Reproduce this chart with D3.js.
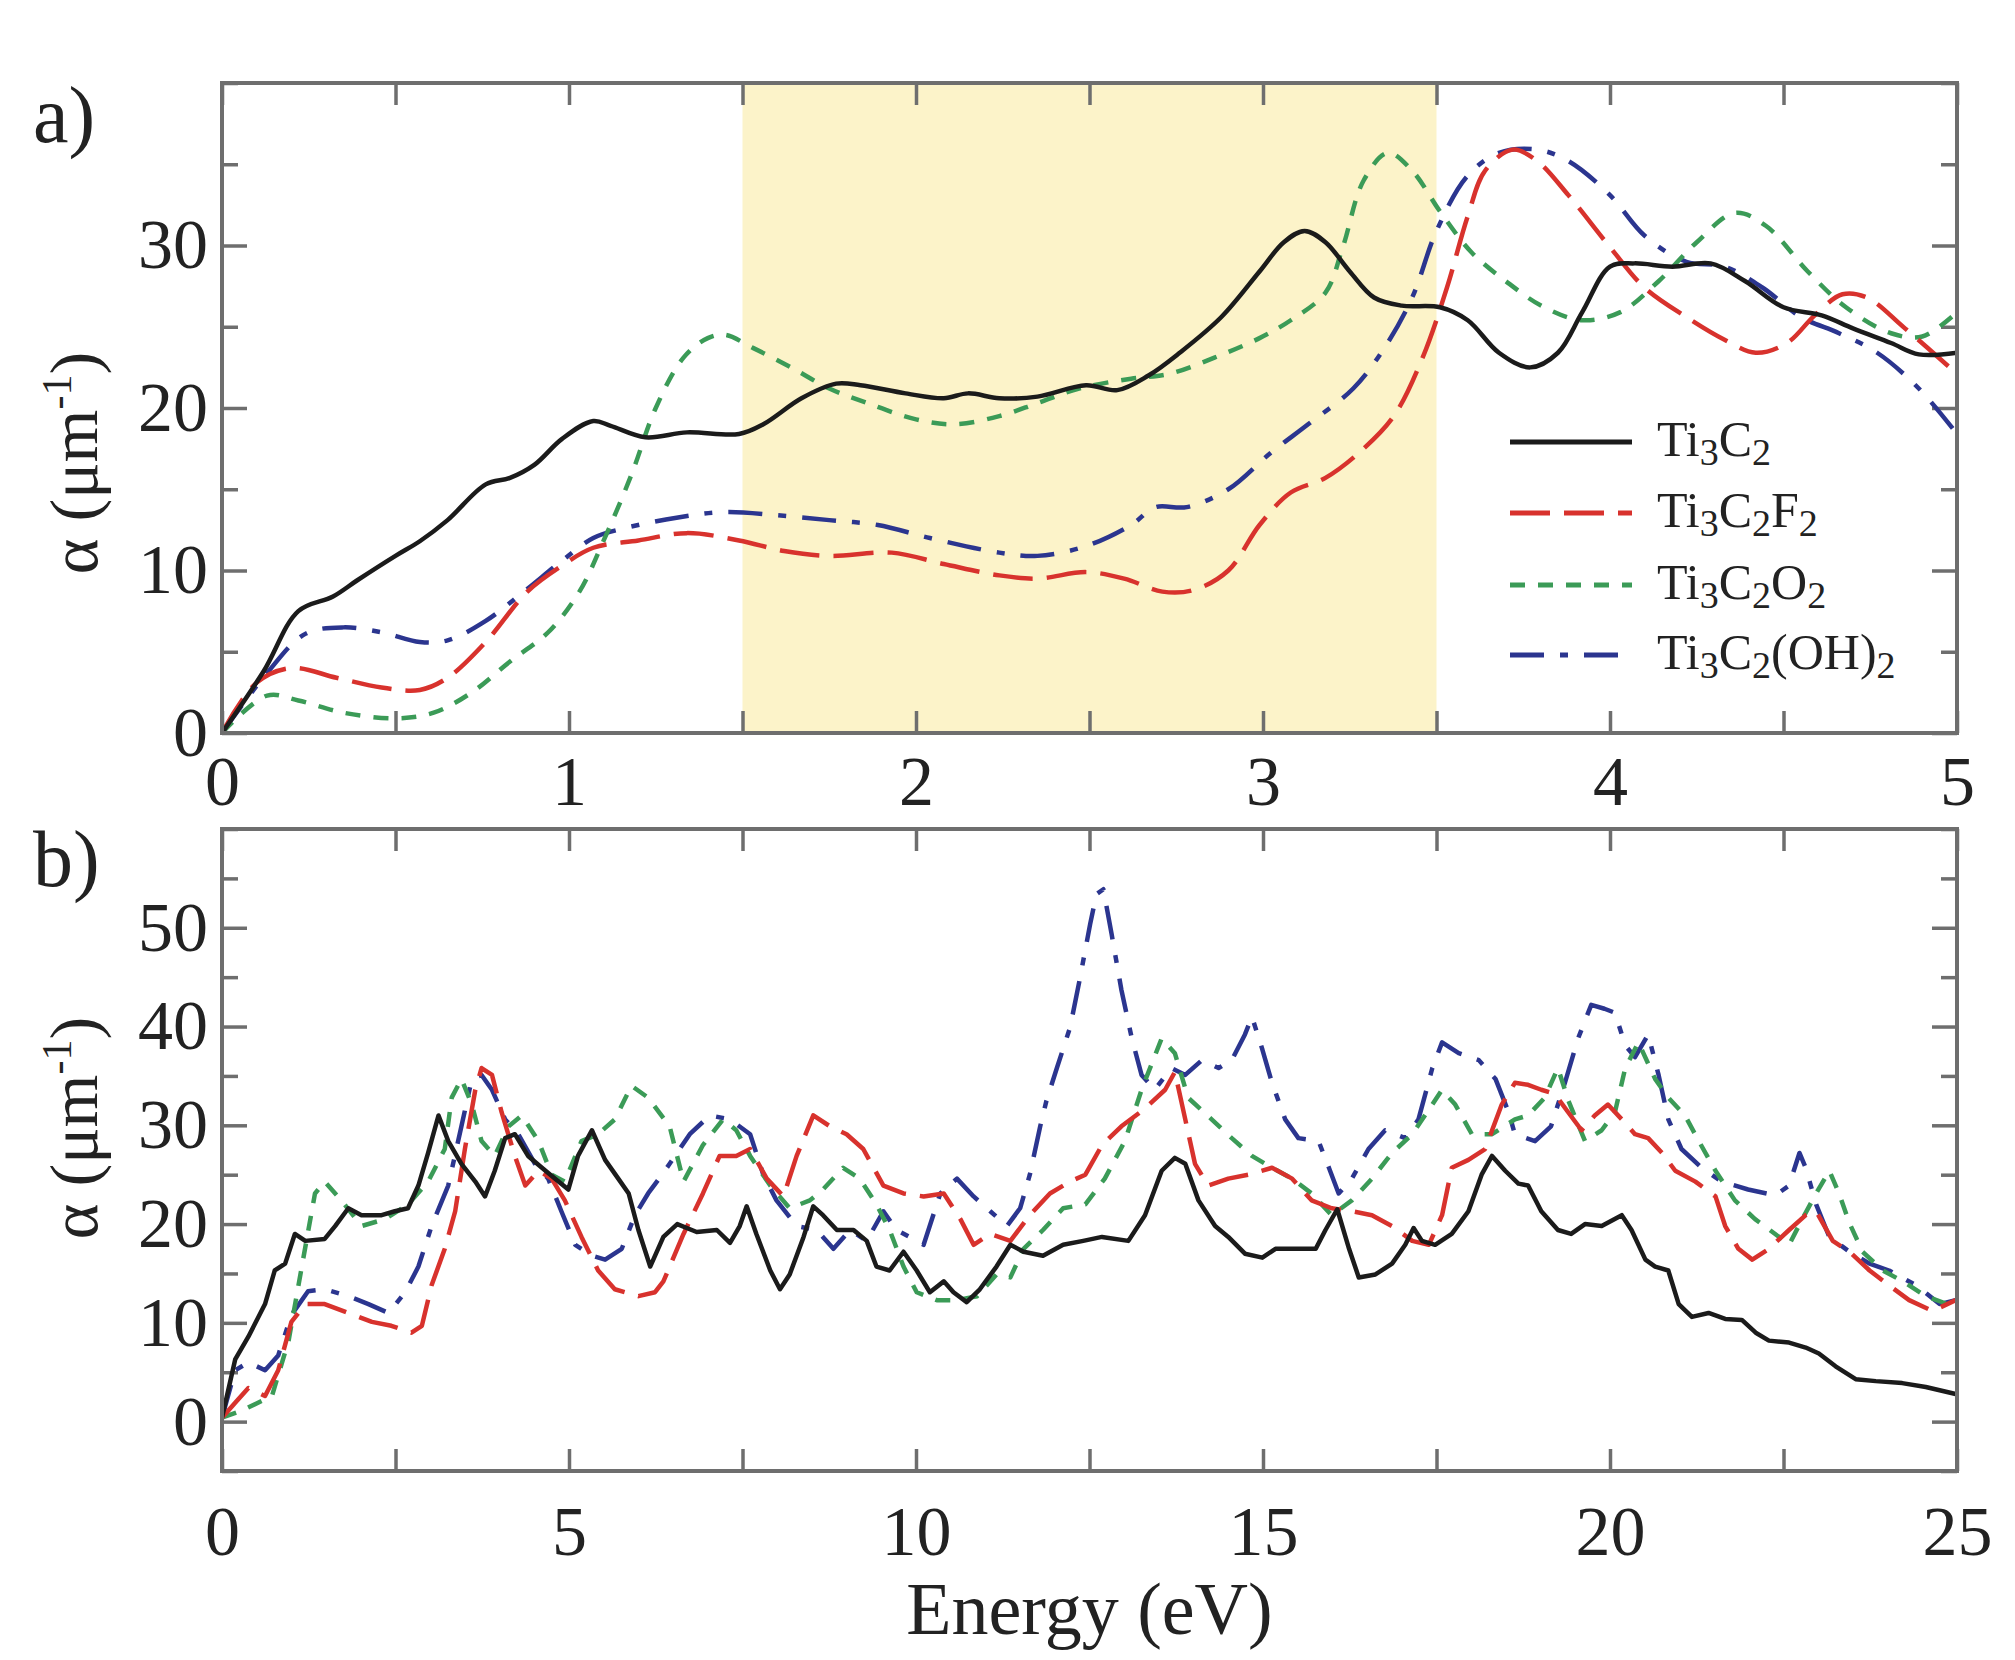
<!DOCTYPE html>
<html>
<head>
<meta charset="utf-8">
<script src="https://cdn.jsdelivr.net/npm/d3@7"></script>
<style>
  body { margin: 0; background: #fff; }
  svg { display: block; }
</style>
</head>
<body>
<div id="chart-area"></div>
<script>
// absorption spectra, values as [energy (eV), alpha (um^-1)]

var seriesNames = ["Ti3C2", "Ti3C2F2", "Ti3C2O2", "Ti3C2(OH)2"];

// panel a) 0 - 5 eV
var ti3c2A = [[0,0],[0.12,3.8],[0.22,7.5],[0.32,8.4],[0.39,9.4],[0.5,10.9],[0.57,11.8],[0.65,13.1],[0.76,15.3],[0.83,15.7],[0.9,16.5],[0.98,18.1],[1.07,19.2],[1.12,18.9],[1.22,18.2],[1.34,18.5],[1.49,18.4],[1.56,19.0],[1.67,20.6],[1.77,21.5],[1.84,21.4],[1.97,20.9],[2.08,20.6],[2.15,20.9],[2.24,20.6],[2.35,20.7],[2.49,21.4],[2.58,21.1],[2.67,22.0],[2.76,23.4],[2.88,25.6],[2.99,28.4],[3.06,30.2],[3.12,30.9],[3.18,30.2],[3.25,28.4],[3.32,26.8],[3.4,26.3],[3.51,26.2],[3.59,25.4],[3.68,23.4],[3.77,22.5],[3.85,23.4],[3.92,25.9],[4.0,28.7],[4.07,28.9],[4.18,28.7],[4.29,28.9],[4.39,27.8],[4.5,26.2],[4.61,25.7],[4.7,24.9],[4.81,24.0],[4.89,23.3],[5.0,23.4]];
var ti3c2f2A = [[0,0],[0.1,3.1],[0.2,4.0],[0.33,3.4],[0.46,2.8],[0.57,2.65],[0.65,3.4],[0.76,5.6],[0.88,8.7],[0.98,10.3],[1.07,11.4],[1.2,11.85],[1.34,12.3],[1.49,11.85],[1.62,11.2],[1.75,10.9],[1.93,11.1],[2.08,10.4],[2.24,9.7],[2.35,9.5],[2.49,9.9],[2.6,9.5],[2.71,8.7],[2.8,8.8],[2.9,10.0],[2.99,12.8],[3.08,14.8],[3.18,15.7],[3.29,17.5],[3.38,19.6],[3.46,23.1],[3.53,27.4],[3.59,31.8],[3.64,34.6],[3.72,35.9],[3.79,35.2],[3.88,33.1],[4.0,29.9],[4.1,27.4],[4.22,25.6],[4.33,24.2],[4.42,23.4],[4.51,24.0],[4.59,25.7],[4.67,27.0],[4.74,26.8],[4.85,24.9],[5.0,22.1]];
var ti3c2o2A = [[0,0],[0.13,2.3],[0.22,2.0],[0.35,1.25],[0.5,0.9],[0.61,1.25],[0.72,2.5],[0.83,4.4],[0.94,6.2],[1.03,8.7],[1.1,11.85],[1.18,15.9],[1.25,20.0],[1.33,23.1],[1.4,24.3],[1.45,24.5],[1.53,23.7],[1.64,22.5],[1.75,21.2],[1.86,20.3],[2.0,19.3],[2.11,19.0],[2.24,19.5],[2.35,20.3],[2.47,21.2],[2.62,21.8],[2.73,22.1],[2.86,23.1],[2.99,24.3],[3.08,25.4],[3.18,27.1],[3.23,29.9],[3.29,34.0],[3.36,35.7],[3.43,34.6],[3.51,32.1],[3.6,29.6],[3.7,27.8],[3.81,26.2],[3.92,25.4],[4.03,25.9],[4.14,27.8],[4.25,30.2],[4.36,32.0],[4.45,31.2],[4.57,28.4],[4.68,26.2],[4.81,24.6],[4.9,24.4],[5.0,25.9]];
var ti3c2oh2A = [[0,0],[0.13,3.7],[0.24,6.1],[0.35,6.5],[0.46,6.2],[0.57,5.6],[0.65,5.7],[0.76,6.9],[0.87,8.7],[0.98,10.6],[1.07,12.0],[1.16,12.6],[1.31,13.25],[1.45,13.6],[1.6,13.4],[1.75,13.1],[1.89,12.8],[2.04,12.0],[2.24,11.1],[2.35,10.9],[2.49,11.5],[2.62,12.8],[2.69,13.9],[2.78,13.9],[2.9,15.0],[3.02,17.2],[3.13,19.0],[3.26,21.2],[3.35,23.7],[3.43,26.8],[3.5,30.9],[3.59,34.3],[3.68,35.7],[3.79,35.9],[3.88,35.2],[4.0,33.1],[4.1,30.6],[4.22,29.0],[4.33,28.7],[4.44,27.4],[4.55,25.6],[4.66,24.6],[4.77,23.4],[4.89,21.2],[5.0,18.4]];

// panel b) 0 - 25 eV
var ti3c2B = [[0,0.4],[0.19,6.3],[0.38,8.6],[0.62,11.9],[0.76,15.3],[0.91,16.0],[1.05,19.0],[1.2,18.3],[1.48,18.5],[1.63,19.8],[1.82,21.6],[2.01,20.9],[2.3,20.9],[2.49,21.3],[2.68,21.6],[2.83,23.9],[2.97,27.2],[3.12,31.0],[3.26,28.4],[3.45,26.1],[3.65,24.3],[3.79,22.8],[3.93,25.4],[4.08,28.7],[4.22,29.1],[4.41,26.9],[4.61,25.7],[4.8,24.6],[4.99,23.5],[5.13,26.9],[5.33,29.5],[5.52,26.5],[5.71,24.6],[5.86,23.1],[6.0,19.4],[6.17,15.7],[6.36,18.7],[6.56,20.0],[6.84,19.2],[7.13,19.4],[7.32,18.1],[7.46,19.8],[7.56,21.8],[7.7,19.0],[7.9,15.3],[8.04,13.4],[8.18,14.9],[8.38,18.7],[8.52,21.8],[8.66,20.9],[8.86,19.4],[9.1,19.4],[9.29,18.3],[9.43,15.7],[9.62,15.3],[9.82,17.2],[10.01,15.3],[10.2,13.1],[10.4,14.2],[10.54,13.1],[10.73,12.1],[10.92,13.4],[11.16,15.7],[11.36,17.9],[11.55,17.2],[11.83,16.8],[12.12,17.9],[12.41,18.3],[12.68,18.7],[13.06,18.3],[13.3,20.9],[13.54,25.4],[13.73,26.7],[13.88,26.1],[14.07,22.4],[14.31,19.8],[14.5,18.7],[14.74,17.0],[14.99,16.6],[15.18,17.5],[15.51,17.5],[15.76,17.5],[15.9,19.4],[16.07,21.5],[16.24,17.5],[16.38,14.6],[16.62,14.9],[16.86,16.0],[17.05,17.9],[17.17,19.6],[17.29,18.3],[17.48,17.9],[17.72,19.0],[17.96,21.3],[18.15,25.0],[18.3,26.9],[18.49,25.4],[18.68,24.1],[18.82,23.9],[19.01,21.3],[19.25,19.4],[19.44,19.0],[19.64,20.0],[19.88,19.8],[20.17,20.9],[20.31,19.4],[20.51,16.4],[20.65,15.7],[20.84,15.3],[20.99,11.9],[21.18,10.6],[21.42,11.0],[21.66,10.4],[21.9,10.3],[22.1,9.0],[22.29,8.2],[22.58,8.0],[22.82,7.5],[23.01,6.9],[23.25,5.6],[23.54,4.3],[23.83,4.1],[24.21,3.9],[24.55,3.5],[24.98,2.8]];
var ti3c2f2B = [[0,0.4],[0.19,1.9],[0.38,3.4],[0.62,2.6],[0.81,5.2],[1.0,10.1],[1.2,11.9],[1.48,11.9],[1.82,11.0],[2.16,10.1],[2.44,9.7],[2.73,9.0],[2.88,9.7],[3.02,13.8],[3.21,17.5],[3.36,21.3],[3.5,27.6],[3.65,33.6],[3.74,35.8],[3.89,35.1],[4.03,31.3],[4.22,26.9],[4.37,23.9],[4.56,25.4],[4.75,24.6],[4.94,22.4],[5.18,18.7],[5.42,15.3],[5.66,13.4],[6.0,12.7],[6.24,13.1],[6.36,14.2],[6.65,19.0],[6.93,23.1],[7.17,26.9],[7.41,26.9],[7.61,27.6],[7.85,24.6],[8.09,22.8],[8.28,26.9],[8.52,31.0],[8.76,29.9],[9.0,29.1],[9.24,27.6],[9.53,23.9],[9.82,23.1],[10.11,22.8],[10.4,23.1],[10.64,20.5],[10.83,17.9],[11.07,19.0],[11.36,18.3],[11.64,20.9],[11.93,23.1],[12.22,24.3],[12.44,25.0],[12.68,28.0],[12.96,29.9],[13.3,31.7],[13.59,33.6],[13.73,35.4],[13.88,30.6],[14.02,26.1],[14.21,23.9],[14.5,24.6],[14.79,25.0],[15.13,25.7],[15.42,24.6],[15.7,22.4],[15.99,21.6],[16.28,21.3],[16.57,20.9],[16.86,19.8],[17.15,18.3],[17.39,17.9],[17.58,20.9],[17.72,25.7],[17.96,26.5],[18.2,27.6],[18.44,32.1],[18.63,34.3],[18.82,34.1],[19.01,33.6],[19.2,33.2],[19.4,31.3],[19.59,29.5],[19.78,31.0],[19.97,32.1],[20.17,30.6],[20.36,29.1],[20.55,28.7],[20.75,27.2],[20.94,25.4],[21.23,24.3],[21.52,22.8],[21.66,19.8],[21.85,17.5],[22.05,16.4],[22.29,17.5],[22.58,19.4],[22.82,20.9],[22.97,21.3],[23.21,18.3],[23.45,17.2],[23.74,15.3],[24.02,13.8],[24.31,12.3],[24.65,11.2],[24.98,12.3]];
var ti3c2o2B = [[0,0.4],[0.28,1.1],[0.72,2.6],[0.96,8.2],[1.15,15.7],[1.34,23.1],[1.48,24.3],[1.72,22.4],[2.01,19.8],[2.35,20.5],[2.68,22.0],[2.97,24.3],[3.21,27.6],[3.31,32.8],[3.45,34.7],[3.6,32.1],[3.74,28.4],[3.93,26.9],[4.13,29.9],[4.32,31.0],[4.56,28.4],[4.75,25.0],[4.94,24.3],[5.18,28.4],[5.42,29.1],[5.66,30.6],[5.9,34.0],[6.14,32.8],[6.45,29.9],[6.65,24.3],[6.93,28.0],[7.22,30.6],[7.41,29.5],[7.61,26.9],[7.9,23.9],[8.18,21.6],[8.47,22.4],[8.66,23.5],[8.95,25.7],[9.19,24.6],[9.43,22.0],[9.62,19.4],[9.82,15.7],[10.01,13.1],[10.3,12.3],[10.59,12.3],[10.88,12.7],[11.16,14.9],[11.36,14.6],[11.55,17.5],[11.83,19.4],[12.12,21.6],[12.44,22.0],[12.72,24.6],[13.01,28.4],[13.25,33.6],[13.54,38.8],[13.73,37.3],[13.92,32.8],[14.26,30.6],[14.55,28.7],[14.84,26.9],[15.13,25.7],[15.42,24.6],[15.7,23.1],[15.99,20.9],[16.28,22.4],[16.57,24.6],[16.86,27.2],[17.15,29.1],[17.44,32.1],[17.58,33.6],[17.77,32.1],[18.01,29.1],[18.3,29.1],[18.63,30.6],[18.82,31.0],[19.06,32.8],[19.25,35.8],[19.4,32.5],[19.64,28.4],[19.88,29.5],[20.07,31.3],[20.22,35.8],[20.41,38.4],[20.65,34.7],[20.84,32.8],[21.08,31.0],[21.28,28.4],[21.52,25.4],[21.8,22.4],[22.09,20.5],[22.38,19.0],[22.58,17.9],[22.77,20.5],[22.97,23.1],[23.16,25.4],[23.3,23.1],[23.45,20.1],[23.64,17.2],[23.93,15.3],[24.22,14.2],[24.55,12.7],[24.98,11.6]];
var ti3c2oh2B = [[0,0.4],[0.19,5.2],[0.38,6.0],[0.62,5.2],[0.81,6.7],[1.0,10.8],[1.24,13.2],[1.48,13.4],[1.82,12.7],[2.11,11.9],[2.4,11.0],[2.64,13.1],[2.83,15.7],[3.02,19.8],[3.26,23.9],[3.45,29.9],[3.6,34.7],[3.74,35.1],[3.89,33.6],[4.08,30.6],[4.27,29.1],[4.51,26.1],[4.7,24.6],[4.89,21.3],[5.09,17.9],[5.33,16.8],[5.52,16.4],[5.76,17.5],[5.95,20.9],[6.14,23.1],[6.34,25.0],[6.45,26.1],[6.74,29.1],[7.03,31.0],[7.32,30.6],[7.61,29.1],[7.8,25.0],[7.99,22.4],[8.28,19.8],[8.57,19.4],[8.81,17.5],[9.05,19.4],[9.29,18.3],[9.53,21.3],[9.72,19.4],[9.91,18.7],[10.11,17.9],[10.35,23.1],[10.59,24.6],[10.83,22.8],[11.07,21.3],[11.31,19.8],[11.5,21.6],[11.64,25.0],[11.79,29.9],[11.88,32.5],[12.03,35.8],[12.22,39.9],[12.36,44.8],[12.51,50.4],[12.6,53.4],[12.7,53.9],[12.82,49.3],[12.96,43.7],[13.11,38.8],[13.25,35.1],[13.44,33.6],[13.68,35.8],[13.88,35.1],[14.12,36.6],[14.36,35.8],[14.55,36.6],[14.74,39.2],[14.84,41.0],[14.99,37.7],[15.13,34.3],[15.32,30.6],[15.51,28.7],[15.8,28.4],[15.95,25.7],[16.09,23.1],[16.28,24.6],[16.52,27.6],[16.76,29.5],[17.05,28.7],[17.24,30.6],[17.44,35.8],[17.58,38.4],[17.82,37.3],[18.11,36.6],[18.35,34.7],[18.54,31.3],[18.63,29.1],[18.92,28.4],[19.15,29.9],[19.35,34.3],[19.54,38.8],[19.73,42.2],[19.92,41.8],[20.07,41.4],[20.22,38.1],[20.36,36.9],[20.55,39.2],[20.7,35.1],[20.84,30.6],[21.03,27.6],[21.32,25.7],[21.61,24.3],[21.99,23.5],[22.38,22.9],[22.58,23.9],[22.73,27.2],[22.82,25.7],[22.97,22.0],[23.16,18.7],[23.45,17.2],[23.74,16.0],[24.02,15.3],[24.41,13.8],[24.75,11.9],[24.98,12.3]];

// ticks
var xTicksA = [0, 1, 2, 3, 4, 5];
var yTicksA = [0, 10, 20, 30];
var xTicksB = [0, 5, 10, 15, 20, 25];
var yTicksB = [0, 10, 20, 30, 40, 50];
var shadeRange = [1.5, 3.5];

var colors = ["#1b1b1b", "#d8322d", "#3b9b57", "#2b358f"];
var dashes = [null, "40,14", "15,13", "34,16,8,16"];

var serif = "'Liberation Serif', 'Times New Roman', 'DejaVu Serif', serif";
var frameColor = "#6e6e6e";

var svg = d3.select("#chart-area")
    .append("svg")
        .attr("width", 2015)
        .attr("height", 1660);

var left = 222, right = 1957;

function drawPanel(opt) {
    var x = d3.scaleLinear().domain(opt.xDomain).range([left, right]);
    var y = d3.scaleLinear().domain(opt.yDomain).range([opt.bottom, opt.top]);

    var g = svg.append("g").attr("class", "panel " + opt.id);

    var clipId = "clip-" + opt.id;
    g.append("clipPath")
        .attr("id", clipId)
        .append("rect")
            .attr("x", left)
            .attr("y", opt.top)
            .attr("width", right - left)
            .attr("height", opt.bottom - opt.top);

    if (opt.shade) {
        g.append("rect")
            .attr("x", x(opt.shade[0]))
            .attr("y", opt.top)
            .attr("width", x(opt.shade[1]) - x(opt.shade[0]))
            .attr("height", opt.bottom - opt.top)
            .attr("fill", "#fcf3c9");
    }

    // minor / major ticks, all pointing inward
    var xAll = d3.range(opt.xDomain[0], opt.xDomain[1] + 1e-9, opt.xStep);
    var yMinor = d3.range(opt.yDomain[0], opt.yDomain[1] + 1e-9, 5).filter(function(v){
        return opt.yTicks.indexOf(v) < 0;
    });

    function styleAxis(sel) {
        sel.select(".domain").remove();
        sel.selectAll("line").attr("stroke", frameColor).attr("stroke-width", 3.5);
        sel.selectAll("text")
            .attr("font-family", serif)
            .attr("font-size", "70px")
            .attr("fill", "#222");
    }

    g.append("g")
        .attr("transform", "translate(0," + opt.bottom + ")")
        .call(d3.axisBottom(x).tickValues(xAll).tickSize(-22).tickPadding(opt.xPad)
            .tickFormat(function(d){ return opt.xTicks.indexOf(d) >= 0 ? d : ""; }))
        .call(styleAxis);

    g.append("g")
        .attr("transform", "translate(0," + opt.top + ")")
        .call(d3.axisTop(x).tickValues(xAll).tickSize(-22).tickFormat(""))
        .call(styleAxis);

    g.append("g")
        .attr("transform", "translate(" + left + ",0)")
        .call(d3.axisLeft(y).tickValues(opt.yTicks).tickSize(-25).tickPadding(14))
        .call(styleAxis);

    g.append("g")
        .attr("transform", "translate(" + left + ",0)")
        .call(d3.axisLeft(y).tickValues(yMinor).tickSize(-16).tickFormat(""))
        .call(styleAxis);

    g.append("g")
        .attr("transform", "translate(" + right + ",0)")
        .call(d3.axisRight(y).tickValues(opt.yTicks).tickSize(-25).tickFormat(""))
        .call(styleAxis);

    g.append("g")
        .attr("transform", "translate(" + right + ",0)")
        .call(d3.axisRight(y).tickValues(yMinor).tickSize(-16).tickFormat(""))
        .call(styleAxis);

    var line = d3.line()
        .x(function(d){ return x(d[0]); })
        .y(function(d){ return y(d[1]); })
        .curve(opt.curve);

    var lines = g.append("g").attr("clip-path", "url(#" + clipId + ")");
    // dashed ones first, solid black on top
    [3, 2, 1, 0].forEach(function(i){
        lines.append("path")
            .datum(opt.series[i])
            .attr("d", line)
            .attr("fill", "none")
            .attr("stroke", colors[i])
            .attr("stroke-width", 4.5)
            .attr("stroke-dasharray", dashes[i])
            .attr("stroke-linejoin", "round");
    });

    // frame
    g.append("rect")
        .attr("x", left)
        .attr("y", opt.top)
        .attr("width", right - left)
        .attr("height", opt.bottom - opt.top)
        .attr("fill", "none")
        .attr("stroke", frameColor)
        .attr("stroke-width", 4);

    // panel letter
    g.append("text")
        .attr("x", 33)
        .attr("y", opt.letterY)
        .attr("font-family", serif)
        .attr("font-size", "80px")
        .attr("fill", "#222")
        .text(opt.letter);

    // y label  α (μm-1)
    var yl = g.append("text")
        .attr("transform", "translate(97," + opt.labelY + ") rotate(-90)")
        .attr("text-anchor", "middle")
        .attr("font-family", serif)
        .attr("font-size", "68px")
        .attr("fill", "#222");
    yl.append("tspan").text("α (μm");
    yl.append("tspan").attr("font-size", "42px").attr("dy", "-26").text("-1");
    yl.append("tspan").attr("dy", "26").text(")");

    return { x: x, y: y, g: g };
}

var pa = drawPanel({
    id: "a", letter: "a)", letterY: 142, labelY: 463,
    top: 83, bottom: 733,
    xDomain: [0, 5], yDomain: [0, 40], xStep: 0.5, xPad: 22,
    xTicks: xTicksA, yTicks: yTicksA,
    shade: shadeRange,
    curve: d3.curveCatmullRom.alpha(0.5),
    series: [ti3c2A, ti3c2f2A, ti3c2o2A, ti3c2oh2A]
});

var pb = drawPanel({
    id: "b", letter: "b)", letterY: 886, labelY: 1128,
    top: 829, bottom: 1471,
    xDomain: [0, 25], yDomain: [-5, 60], xStep: 2.5, xPad: 34,
    xTicks: xTicksB, yTicks: yTicksB,
    shade: null,
    curve: d3.curveLinear,
    series: [ti3c2B, ti3c2f2B, ti3c2o2B, ti3c2oh2B]
});

// x axis title
svg.append("text")
    .attr("x", (left + right) / 2)
    .attr("y", 1634)
    .attr("text-anchor", "middle")
    .attr("font-family", serif)
    .attr("font-size", "74px")
    .attr("fill", "#222")
    .text("Energy (eV)");

// legend in panel a, formula split into [text, isSubscript]
var legendParts = [
    [["Ti", 0], ["3", 1], ["C", 0], ["2", 1]],
    [["Ti", 0], ["3", 1], ["C", 0], ["2", 1], ["F", 0], ["2", 1]],
    [["Ti", 0], ["3", 1], ["C", 0], ["2", 1], ["O", 0], ["2", 1]],
    [["Ti", 0], ["3", 1], ["C", 0], ["2", 1], ["(OH)", 0], ["2", 1]]
];

var legend = svg.append("g").attr("class", "legend");
var rowY = [442, 513, 585, 655];

seriesNames.forEach(function(name, i){
    legend.append("line")
        .attr("x1", 1510).attr("x2", 1632)
        .attr("y1", rowY[i]).attr("y2", rowY[i])
        .attr("stroke", colors[i])
        .attr("stroke-width", 5)
        .attr("stroke-dasharray", dashes[i]);

    var t = legend.append("text")
        .attr("x", 1657)
        .attr("y", rowY[i] + 14)
        .attr("font-family", serif)
        .attr("font-size", "50px")
        .attr("fill", "#222");

    var shifted = false;
    legendParts[i].forEach(function(p){
        var ts = t.append("tspan").text(p[0]);
        if (p[1] && !shifted) { ts.attr("dy", 9).attr("font-size", "38px"); shifted = true; }
        else if (p[1]) { ts.attr("font-size", "38px"); }
        else if (shifted) { ts.attr("dy", -9); shifted = false; }
    });
});
</script>
</body>
</html>
